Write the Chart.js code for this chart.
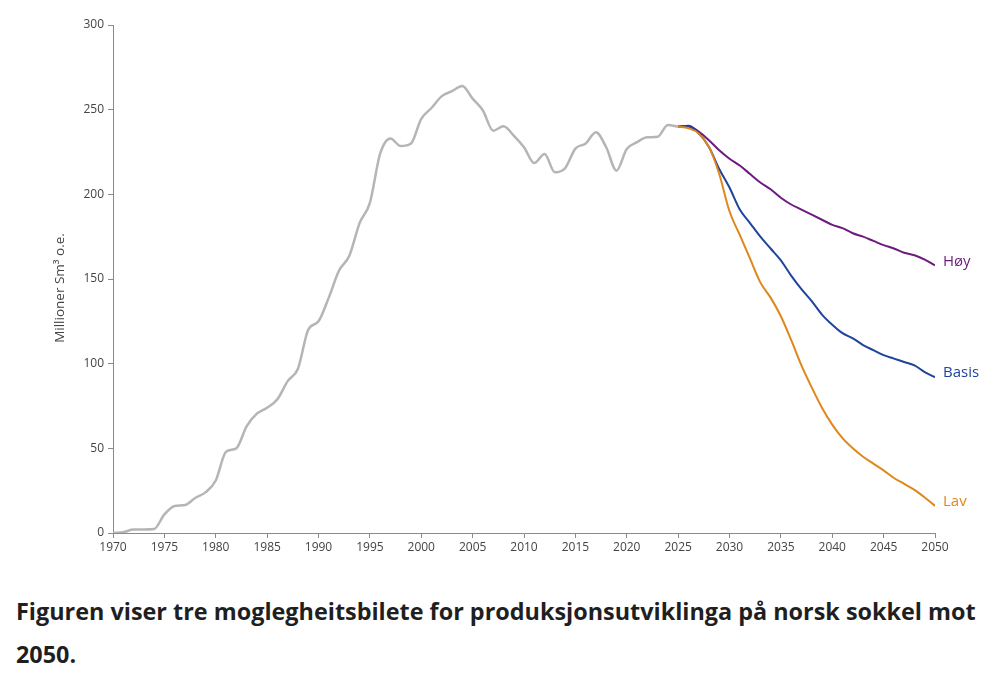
<!DOCTYPE html>
<html lang="no">
<head>
<meta charset="utf-8">
<script src="https://cdn.jsdelivr.net/npm/chart.js@4.4.1/dist/chart.umd.min.js"></script>
<style>
    html, body { margin: 0; padding: 0; background: #fff; }
    .chart-wrap { position: relative; width: 1000px; height: 570px; }
    .caption {
        margin: 20px 0 0 16px;
        width: 975px;
        font-family: "Open Sans", sans-serif;
        font-weight: 700;
        font-size: 23.4px;
        line-height: 43px;
        color: #1f1f1f;
    }
</style>
</head>
<body>
<div class="chart-wrap"><canvas id="prod-chart"></canvas></div>
<div class="caption">Figuren viser tre moglegheitsbilete for produksjonsutviklinga på norsk sokkel mot 2050.</div>

<script>
// Historisk produksjon 1970-2025
const histYears = [];
for (let y = 1970; y <= 2025; y++) histYears.push(y);
const histValues = [
    0, 0.5, 2, 2, 2.3, 11, 16, 16.5, 20.7, 24,
    31, 48, 50, 63, 70.5, 74, 79, 89.7, 97, 120,
    125, 139, 155, 163.7, 183, 195, 224, 233, 228.5, 230,
    244.6, 251, 258, 261, 264, 256.5, 249.5, 237.6, 240.2, 234.7,
    227.8, 218.5, 223.8, 213, 215.4, 227, 230, 236.7, 227.8, 214,
    226.8, 230.8, 233.7, 234, 241, 240
];

// Scenarier 2025-2050
const scenYears = [];
for (let y = 2025; y <= 2050; y++) scenYears.push(y);
const hoyValues = [
    240, 240.5, 237, 232, 226, 221, 217, 212, 207, 203,
    198, 194, 191, 188, 185, 182, 180, 177, 175, 172.5,
    170, 168, 165.5, 164, 161.5, 158
];
const basisValues = [
    240, 240, 236, 228, 215, 204, 191, 183, 175, 168,
    161, 152, 144, 137, 129, 123, 118, 115, 111, 108,
    105, 103, 101, 99, 95, 92
];
const lavValues = [
    240, 239, 236, 228, 212, 190, 176, 162, 148, 139,
    128, 114, 99, 86, 74, 64, 56, 50, 45, 41,
    37, 32.5, 29, 25.5, 21, 16
];

const yTicks = [0, 50, 100, 150, 200, 250, 300];
const xTicks = [];
for (let y = 1970; y <= 2050; y += 5) xTicks.push(y);

const yTitle = 'Millioner Sm³ o.e.';

const toPoints = (xs, ys) => xs.map((x, i) => ({ x: x, y: ys[i] }));

// Etiketter ved enden av linjene + aksetittel
const endLabels = {
    id: 'endLabels',
    afterDatasetsDraw(chart) {
        const ctx = chart.ctx;
        chart.data.datasets.forEach((ds, i) => {
            if (!ds.endLabel) return;
            const meta = chart.getDatasetMeta(i);
            const last = meta.data[meta.data.length - 1];
            ctx.save();
            ctx.font = '15px "Open Sans", sans-serif';
            ctx.fillStyle = ds.borderColor;
            ctx.textAlign = 'left';
            ctx.textBaseline = 'middle';
            ctx.fillText(ds.endLabel, last.x + 8, last.y - 4);
            ctx.restore();
        });

        // Aksetittel (litt under midten av plottet, som i originalen)
        const area = chart.chartArea;
        ctx.save();
        ctx.translate(area.left - 53, (area.top + area.bottom) / 2 + 9);
        ctx.rotate(-Math.PI / 2);
        ctx.font = '13.5px "Open Sans", sans-serif';
        ctx.fillStyle = '#444';
        ctx.textAlign = 'center';
        ctx.textBaseline = 'middle';
        ctx.fillText(yTitle, 0, 0);
        ctx.restore();
    }
};

const tickFont = { family: '"Open Sans", sans-serif', size: 12 };

new Chart(document.getElementById('prod-chart'), {
    type: 'line',
    data: {
        datasets: [
            {
                label: 'Historisk',
                data: toPoints(histYears, histValues),
                borderColor: '#b5b5b5',
                borderWidth: 2.5
            },
            {
                label: 'Lav',
                endLabel: 'Lav',
                data: toPoints(scenYears, lavValues),
                borderColor: '#e0871b',
                borderWidth: 2
            },
            {
                label: 'Basis',
                endLabel: 'Basis',
                data: toPoints(scenYears, basisValues),
                borderColor: '#1f449c',
                borderWidth: 2
            },
            {
                label: 'Høy',
                endLabel: 'Høy',
                data: toPoints(scenYears, hoyValues),
                borderColor: '#6e1a7e',
                borderWidth: 2
            }
        ]
    },
    options: {
        responsive: true,
        maintainAspectRatio: false,
        animation: false,
        elements: {
            point: { radius: 0 },
            line: { tension: 0.4, cubicInterpolationMode: 'monotone' }
        },
        layout: { padding: { top: 25, right: 65, left: 0, bottom: 0 } },
        plugins: {
            legend: { display: false },
            tooltip: { enabled: false }
        },
        scales: {
            x: {
                type: 'linear',
                min: 1970,
                max: 2050,
                afterBuildTicks: (s) => { s.ticks = xTicks.map(v => ({ value: v })); },
                afterFit: (s) => { s.height = 37; },
                ticks: {
                    color: '#444',
                    font: tickFont,
                    padding: 2,
                    maxRotation: 0,
                    callback: (v) => String(v)
                },
                grid: { drawOnChartArea: false, drawTicks: true, tickLength: 5, color: '#8a8a8a' },
                border: { display: true, color: '#8a8a8a', width: 1 }
            },
            y: {
                min: 0,
                max: 300,
                afterBuildTicks: (s) => { s.ticks = yTicks.map(v => ({ value: v })); },
                afterFit: (s) => { s.width = 113; },
                ticks: { color: '#444', font: tickFont, padding: 4 },
                grid: { drawOnChartArea: false, drawTicks: true, tickLength: 5, color: '#8a8a8a' },
                border: { display: true, color: '#8a8a8a', width: 1 }
            }
        }
    },
    plugins: [endLabels]
});
</script>
</body>
</html>
